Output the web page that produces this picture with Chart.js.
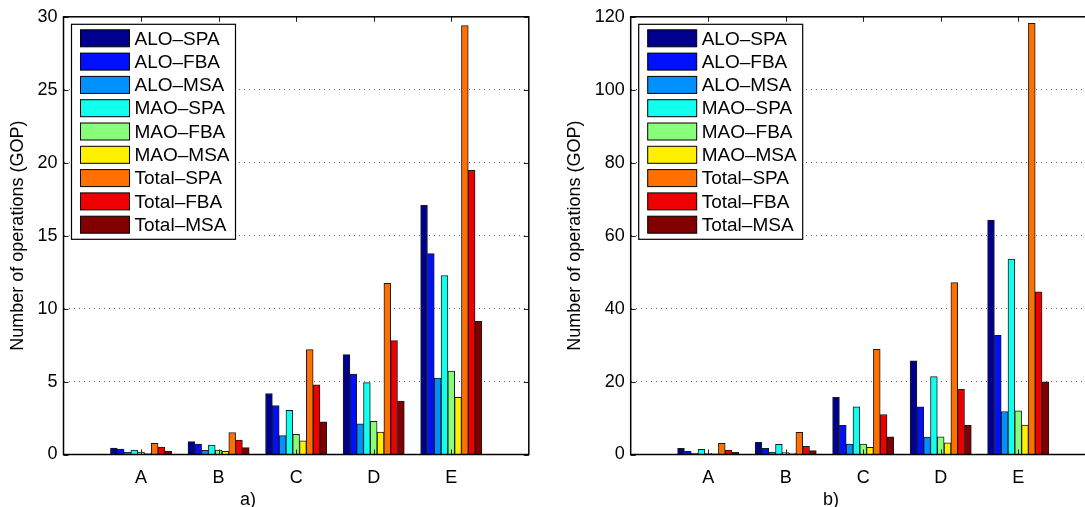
<!DOCTYPE html>
<html>
<head>
<meta charset="utf-8">
<script src="https://cdn.jsdelivr.net/npm/chart.js@4.4.1/dist/chart.umd.min.js"></script>
<style>
  html, body { margin: 0; padding: 0; background: #fff; overflow: hidden; }
  #wrap { position: relative; width: 1085px; height: 507px; overflow: hidden; }
  #boxA { position: absolute; left: 0; top: 0; }
  #boxB { position: absolute; left: 545px; top: 0; }
</style>
</head>
<body>
<div id="wrap">
  <div id="boxA"><canvas id="chartA" width="545" height="507"></canvas></div>
  <div id="boxB"><canvas id="chartB" width="560" height="507"></canvas></div>
</div>
<script>
var categories = ["A", "B", "C", "D", "E"];
var seriesNames = ["ALO–SPA", "ALO–FBA", "ALO–MSA", "MAO–SPA", "MAO–FBA", "MAO–MSA", "Total–SPA", "Total–FBA", "Total–MSA"];
var seriesColors = ["#00008f", "#0010ff", "#0090ff", "#10ffef", "#88ff78", "#ffef00", "#ff7000", "#ef0000", "#800000"];
var yTitle = "Number of operations (GOP)";
var panelLabels = ["a)", "b)"];

// panel a)
var aAloSpa = [0.44, 0.88, 4.18, 6.85, 17.08];
var aAloFba = [0.38, 0.72, 3.36, 5.50, 13.77];
var aAloMsa = [0.17, 0.28, 1.29, 2.11, 5.23];
var aMaoSpa = [0.31, 0.65, 3.02, 4.93, 12.27];
var aMaoFba = [0.17, 0.31, 1.38, 2.27, 5.71];
var aMaoMsa = [0.08, 0.22, 0.94, 1.54, 3.91];
var aTotSpa = [0.76, 1.51, 7.19, 11.74, 29.4];
var aTotFba = [0.51, 0.99, 4.77, 7.80, 19.47];
var aTotMsa = [0.24, 0.47, 2.24, 3.66, 9.12];

// panel b)
var bAloSpa = [1.7, 3.35, 15.7, 25.7, 64.3];
var bAloFba = [0.9, 1.7, 7.97, 13.07, 32.65];
var bAloMsa = [0.35, 0.6, 2.87, 4.78, 11.8];
var bMaoSpa = [1.45, 2.8, 13.07, 21.36, 53.6];
var bMaoFba = [0.35, 0.55, 2.87, 4.87, 11.97];
var bMaoMsa = [0.2, 0.4, 1.96, 3.23, 8.06];
var bTotSpa = [3.05, 6.1, 28.8, 47.1, 118.2];
var bTotFba = [1.2, 2.25, 10.97, 17.9, 44.6];
var bTotMsa = [0.6, 1.05, 4.87, 7.97, 19.9];

var FONT = "'Liberation Sans', Arial, Helvetica, sans-serif";

var framePlugin = {
  id: "frame",
  afterDatasetsDraw: function (chart) {
    var ctx = chart.ctx, a = chart.chartArea;
    var xs = chart.scales.x, ys = chart.scales.y;
    ctx.save();
    ctx.strokeStyle = "#222";
    ctx.lineWidth = 1;
    ctx.beginPath();
    ys.ticks.forEach(function (t) {
      var y = Math.round(ys.getPixelForValue(t.value)) + 0.5;
      ctx.moveTo(a.left, y); ctx.lineTo(a.left + 5, y);
      ctx.moveTo(a.right - 5, y); ctx.lineTo(a.right, y);
    });
    for (var i = 1; i <= categories.length; i++) {
      var x = Math.round(xs.getPixelForValue(i)) + 0.5;
      ctx.moveTo(x, a.bottom); ctx.lineTo(x, a.bottom - 5);
      ctx.moveTo(x, a.top); ctx.lineTo(x, a.top + 5);
    }
    ctx.stroke();
    ctx.strokeStyle = "#000";
    ctx.lineWidth = 1.5;
    ctx.strokeRect(a.left, a.top, a.right - a.left, a.bottom - a.top);
    ctx.restore();
  },
  afterDraw: function (chart, args, opts) {
    var ctx = chart.ctx, a = chart.chartArea;
    var bx = a.left + 8, by = a.top + 7.5, bw = 164, bh = 215;
    ctx.save();
    ctx.fillStyle = "#fff";
    ctx.fillRect(bx, by, bw, bh);
    ctx.strokeStyle = "#000";
    ctx.lineWidth = 1.2;
    ctx.strokeRect(bx, by, bw, bh);
    ctx.font = "19px " + FONT;
    ctx.textBaseline = "middle";
    ctx.textAlign = "left";
    chart.data.datasets.forEach(function (ds, i) {
      var cy = by + 14 + i * 23.3;
      ctx.fillStyle = ds.backgroundColor;
      ctx.fillRect(bx + 9, cy - 8.5, 49, 17);
      ctx.lineWidth = 1;
      ctx.strokeStyle = "#000";
      ctx.strokeRect(bx + 9, cy - 8.5, 49, 17);
      ctx.fillStyle = "#000";
      ctx.fillText(ds.label, bx + 63, cy + 1);
    });
    ctx.font = "18px " + FONT;
    ctx.textBaseline = "alphabetic";
    ctx.fillText(opts.label, opts.labelX, 505);
    ctx.restore();
  }
};

function buildDatasets(series) {
  return seriesNames.map(function (name, i) {
    return {
      label: name,
      data: [null].concat(series[i]).concat([null]),
      backgroundColor: seriesColors[i],
      borderColor: "#1a1a1a",
      borderWidth: 1,
      barThickness: 6.8
    };
  });
}

function renderChart(canvasId, series, yMax, yStep, geo) {
  return new Chart(document.getElementById(canvasId), {
    type: "bar",
    data: {
      labels: [""].concat(categories).concat([""]),
      datasets: buildDatasets(series)
    },
    plugins: [framePlugin],
    options: {
      responsive: false,
      animation: false,
      layout: { padding: { left: 0, right: geo.padRight, top: 16.5, bottom: 0 } },
      plugins: {
        legend: { display: false },
        tooltip: { enabled: false },
        frame: { label: geo.label, labelX: geo.labelX }
      },
      scales: {
        x: {
          type: "category",
          offset: false,
          grid: { display: false },
          border: { display: false },
          ticks: {
            autoSkip: false, maxRotation: 0, padding: 5,
            color: "#000", font: { family: FONT, size: 18 }
          },
          afterFit: function (scale) { scale.height = 52.5; }
        },
        y: {
          min: 0,
          max: yMax,
          grid: { color: "#666", lineWidth: 1, drawTicks: false },
          border: { display: false, dash: [1, 4] },
          ticks: {
            stepSize: yStep, padding: 6,
            color: "#000", font: { family: FONT, size: 18 }
          },
          title: {
            display: true, text: yTitle, color: "#000",
            font: { family: FONT, size: 18 },
            padding: { top: geo.titlePad, bottom: 0 }
          },
          afterFit: function (scale) { scale.width = geo.axisWidth; }
        }
      }
    }
  });
}

renderChart("chartA",
  [aAloSpa, aAloFba, aAloMsa, aMaoSpa, aMaoFba, aMaoMsa, aTotSpa, aTotFba, aTotMsa],
  30, 5,
  { padRight: 16.2, axisWidth: 63.5, titlePad: 7, label: panelLabels[0], labelX: 240 });

renderChart("chartB",
  [bAloSpa, bAloFba, bAloMsa, bMaoSpa, bMaoFba, bMaoMsa, bTotSpa, bTotFba, bTotMsa],
  120, 20,
  { padRight: 9.3, axisWidth: 85.7, titlePad: 19, label: panelLabels[1], labelX: 278 });
</script>
</body>
</html>
